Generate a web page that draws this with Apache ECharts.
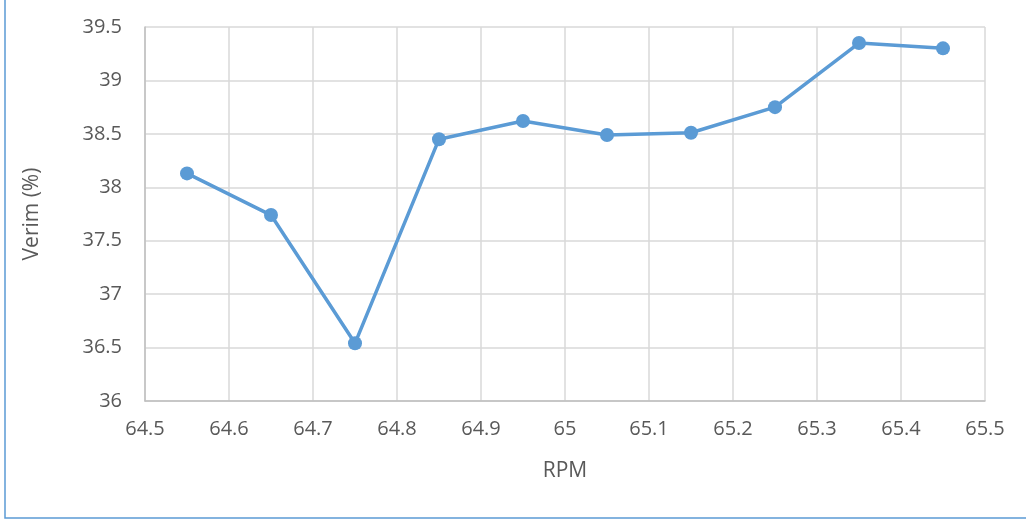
<!DOCTYPE html>
<html><head><meta charset="utf-8">
<script src="https://cdn.jsdelivr.net/npm/echarts@6/dist/echarts.min.js"></script>
<style>html,body{margin:0;padding:0;background:#fff}#c{width:1026px;height:521px}</style>
</head><body><div id="c"></div>
<script>
var rpm = [64.55, 64.65, 64.75, 64.85, 64.95, 65.05, 65.15, 65.25, 65.35, 65.45];
var verim = [38.13, 37.74, 36.54, 38.45, 38.62, 38.49, 38.51, 38.75, 39.35, 39.30];
var xName = 'RPM';
var yName = 'Verim (%)';

var chart = echarts.init(document.getElementById('c'));
var font = '"Open Sans", sans-serif';
chart.setOption({
  animation: false,
  graphic: [{
    type: 'rect', shape: {x: 5, y: -10, width: 1040, height: 528},
    style: {fill: 'none', stroke: '#5b9bd5', lineWidth: 1.5}
  }],
  grid: {left: 145, right: 41, top: 27, bottom: 120},
  xAxis: {
    type: 'value', min: 64.5, max: 65.5, interval: 0.1,
    name: xName, nameLocation: 'middle', nameGap: 60,
    nameTextStyle: {color: '#595959', fontSize: 21, fontFamily: font},
    axisLine: {show: true, lineStyle: {color: '#bfbfbf', width: 1.5}},
    axisTick: {show: false},
    axisLabel: {color: '#595959', fontSize: 20, fontFamily: font, margin: 18,
      formatter: function (v) { return String(Math.round(v * 10) / 10); }},
    splitLine: {show: true, lineStyle: {color: '#d9d9d9', width: 1.5}}
  },
  yAxis: {
    type: 'value', min: 36, max: 39.5, interval: 0.5,
    name: yName, nameLocation: 'middle', nameGap: 102,
    nameTextStyle: {color: '#595959', fontSize: 21, fontFamily: font},
    axisLine: {show: true, lineStyle: {color: '#bfbfbf', width: 1.5}},
    axisTick: {show: false},
    axisLabel: {color: '#595959', fontSize: 20, fontFamily: font, margin: 23,
      formatter: function (v) { return String(Math.round(v * 10) / 10); }},
    splitLine: {show: true, lineStyle: {color: '#d9d9d9', width: 1.5}}
  },
  series: [{
    type: 'line',
    data: rpm.map(function (x, i) { return [x, verim[i]]; }),
    lineStyle: {color: '#5b9bd5', width: 3.5},
    itemStyle: {color: '#5b9bd5'},
    symbol: 'circle', symbolSize: 14
  }]
});
</script></body></html>
